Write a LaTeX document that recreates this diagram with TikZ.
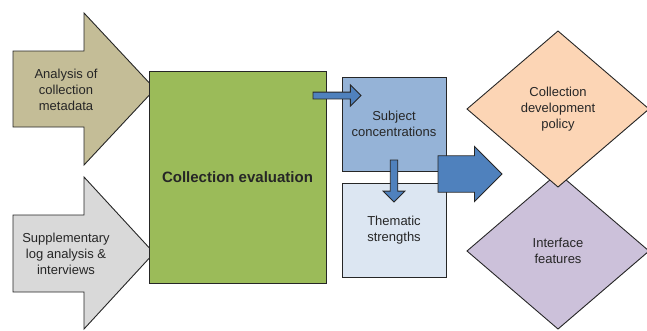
\documentclass[tikz,border=0pt]{standalone}
\usepackage{fontspec}
\setmainfont{Liberation Sans}
\usetikzlibrary{                          % TikZ libraries
                shapes.geometric,         % .
                shapes.arrows,            % .
                calc}
\usepackage{xcolor}
\definecolor{tanfill}{HTML}{C4BD97}
\definecolor{greyfill}{HTML}{D9D9D9}
\definecolor{evalgreen}{HTML}{9BBB59}
\definecolor{subjblue}{HTML}{95B3D7}
\definecolor{themblue}{HTML}{DCE6F2}
\definecolor{arrowblue}{HTML}{4F81BD}
\definecolor{policypeach}{HTML}{FCD5B5}
\definecolor{ifacelilac}{HTML}{CCC1DA}

\begin{document}
\begin{tikzpicture}[x=1pt,y=-1pt
                    ]
                % define styles
\tikzset{outline/.style={draw=black!85,
                       line width=0.9pt,
                       },
         boxtext/.style={text=black!85,
                       align=center,
                       font=\fontsize{13}{16}\selectfont,
                       },
         box/.style={rectangle,
                       outline,
                       boxtext,
                       inner sep=0,
                       outer sep=0,
                       },
         rhomb/.style={diamond,
                       outline,
                       boxtext,
                       inner sep=0,
                       outer sep=0,
                       minimum width=182pt,
                       minimum height=156pt,
                       },
         blockarrow/.style={single arrow,
                       outline,
                       fill=arrowblue,
                       single arrow tip angle=90,
                       outer sep=0,
                       inner xsep=0,
                       anchor=tail,
                       }
}

% fix the page to the reference size
\useasboundingbox (0,0) rectangle (647,330);

% load input arrows
\path[outline,fill=tanfill]
    (13,51) -- (84,51) -- (84,13) -- (155,89) --
    (84,165) -- (84,127) -- (13,127) -- cycle;
\path[outline,fill=greyfill]
    (13,215) -- (84,215) -- (84,177) -- (154,253) --
    (84,329) -- (84,292) -- (13,292) -- cycle;

% nodes
\node[boxtext] (meta) at (66,90)  {Analysis of\\collection\\metadata};
\node[boxtext] (logs) at (66,254) {Supplementary\\log analysis \&\\interviews};

\node[box,fill=evalgreen,minimum width=177pt,minimum height=212pt,
      font=\fontsize{15}{18}\selectfont\bfseries]
                 (eval)  at  (237.5,177)  {Collection evaluation};
\node[box,fill=subjblue,minimum width=104pt,minimum height=94pt]
                 (subj)  at  (394,124)    {Subject\\concentrations};
\node[box,fill=themblue,minimum width=104pt,minimum height=94pt]
                 (them)  at  (394,230)    {Thematic\\strengths};

\node[rhomb,fill=ifacelilac]  (iface)  at  (558,251)  {Interface\\features};
\node[rhomb,fill=policypeach] (policy) at  (558,109)  {Collection\\development\\policy};

% connectors
\node[blockarrow,inner ysep=3pt,minimum width=13pt,minimum height=48pt]
    (evalsubj) at ([xshift=-13pt,yshift=-24.5pt]eval.north east) {};
\node[blockarrow,inner ysep=3.3pt,minimum width=14pt,minimum height=42pt,rotate=-90]
    (subjthem) at ([yshift=11pt]subj.south) {};
\node[blockarrow,inner ysep=13.5pt,minimum width=55pt,minimum height=64pt]
    (tooutput) at ($(subj.south east)!0.5!(them.north east)+(-8,-3)$) {};

\end{tikzpicture}
\end{document}
